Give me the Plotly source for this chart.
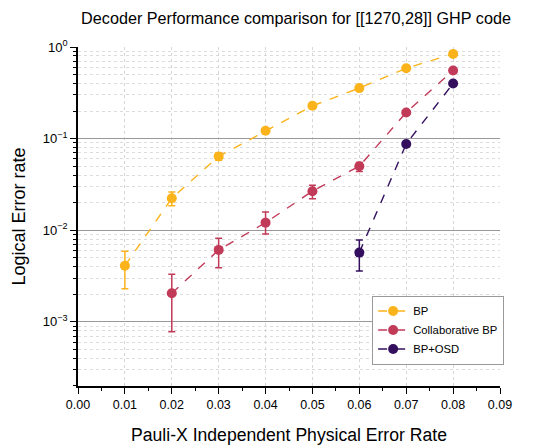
import plotly.graph_objects as go

# ---- data ----
bp_x = [0.01, 0.02, 0.03, 0.04, 0.05, 0.06, 0.07, 0.08]
bp_y = [0.0041, 0.0223, 0.064, 0.122, 0.228, 0.356, 0.587, 0.84]
bp_hi = [0.0059, 0.0262, 0.070, 0.128, 0.236, 0.366, 0.600, 0.855]
bp_lo = [0.0023, 0.0185, 0.058, 0.116, 0.220, 0.346, 0.574, 0.825]

cbp_x = [0.02, 0.03, 0.04, 0.05, 0.06, 0.07, 0.08]
cbp_y = [0.00205, 0.0061, 0.0121, 0.0267, 0.050, 0.193, 0.553]
cbp_hi = [0.0033, 0.0082, 0.0158, 0.031, 0.055, 0.200, 0.565]
cbp_lo = [0.00078, 0.0039, 0.0091, 0.022, 0.0438, 0.186, 0.541]

osd_x = [0.06, 0.07, 0.08]
osd_y = [0.0057, 0.0875, 0.40]
osd_hi = [0.00785, 0.092, 0.41]
osd_lo = [0.0036, 0.083, 0.39]

x_ticks = [0.00, 0.01, 0.02, 0.03, 0.04, 0.05, 0.06, 0.07, 0.08, 0.09]
x_ticklabels = ["0.00", "0.01", "0.02", "0.03", "0.04", "0.05", "0.06", "0.07", "0.08", "0.09"]
y_ticks = [1e-3, 1e-2, 1e-1, 1]
y_ticklabels = ["10<sup>\u22123</sup>", "10<sup>\u22122</sup>", "10<sup>\u22121</sup>", "10<sup>0</sup>"]
y_minor = [m * 10.0 ** e for e in (-4, -3, -2, -1) for m in range(2, 10) if m * 10.0 ** e >= 1.9e-4]

names = ["BP", "Collaborative BP", "BP+OSD"]
colors = ["#fbb31c", "#c13a58", "#330f5e"]

FONT = "Liberation Sans"

fig = go.Figure()
for name, col, xs, ys, hi, lo in [
    (names[0], colors[0], bp_x, bp_y, bp_hi, bp_lo),
    (names[1], colors[1], cbp_x, cbp_y, cbp_hi, cbp_lo),
    (names[2], colors[2], osd_x, osd_y, osd_hi, osd_lo),
]:
    fig.add_trace(go.Scatter(
        x=xs, y=ys, name=name, mode="lines+markers",
        line=dict(color=col, width=1.4, dash="dash"),
        marker=dict(color=col, size=10),
        error_y=dict(type="data", symmetric=False,
                     array=[h - y for h, y in zip(hi, ys)],
                     arrayminus=[y - l for y, l in zip(ys, lo)],
                     color=col, thickness=1.5, width=3.5),
    ))

fig.update_layout(
    width=541, height=446,
    margin=dict(l=78, r=41, t=47, b=60, autoexpand=False),
    paper_bgcolor="white", plot_bgcolor="white",
    font=dict(family=FONT, color="black"),
    title=dict(text="Decoder Performance comparison for [[1270,28]] GHP code",
               x=296 / 541, xanchor="center", y=1 - 18 / 446, yanchor="middle",
               font=dict(size=16.2, family=FONT, color="black")),
    showlegend=True,
    legend=dict(x=0.697, y=(386 - 330) / 339, xanchor="left", yanchor="middle",
                bgcolor="white", bordercolor="#999999", borderwidth=1,
                font=dict(size=11.3, family=FONT), tracegroupgap=0,
                itemwidth=30),
)

fig.update_xaxes(
    range=[0, 0.09], tickmode="array", tickvals=x_ticks, ticktext=x_ticklabels,
    ticks="outside", ticklen=6, tickwidth=1.2, tickcolor="black",
    showline=True, linecolor="black", linewidth=1.5,
    showgrid=True, gridcolor="#d6d6d6", griddash="dot", gridwidth=1,
    zeroline=False, automargin=False,
    tickfont=dict(size=12.5, family=FONT),
    minor=dict(tickmode="array", tickvals=[0.005 + 0.01 * i for i in range(9)],
               ticks="outside", ticklen=3, tickcolor="black", showgrid=False),
    title=dict(text="Pauli-X Independent Physical Error Rate", standoff=18,
               font=dict(size=17.6, family=FONT)),
)

fig.update_yaxes(
    type="log", range=[-3.7, 0], tickmode="array", tickvals=y_ticks, ticktext=y_ticklabels,
    ticks="outside", ticklen=6, tickwidth=1.2, tickcolor="black",
    showline=True, linecolor="black", linewidth=1.5,
    showgrid=True, gridcolor="#999999", gridwidth=1,
    zeroline=False, automargin=False,
    tickfont=dict(size=13, family=FONT),
    minor=dict(tickmode="array", tickvals=y_minor, ticks="outside", ticklen=3,
               tickcolor="black", showgrid=True, gridcolor="#dcdcdc", griddash="dot"),
    title=dict(text="Logical Error rate", standoff=13,
               font=dict(size=18, family=FONT)),
)

fig.write_html("out.html", config={"displayModeBar": False},
               post_script="document.body.style.margin='0';document.body.style.padding='0';")
